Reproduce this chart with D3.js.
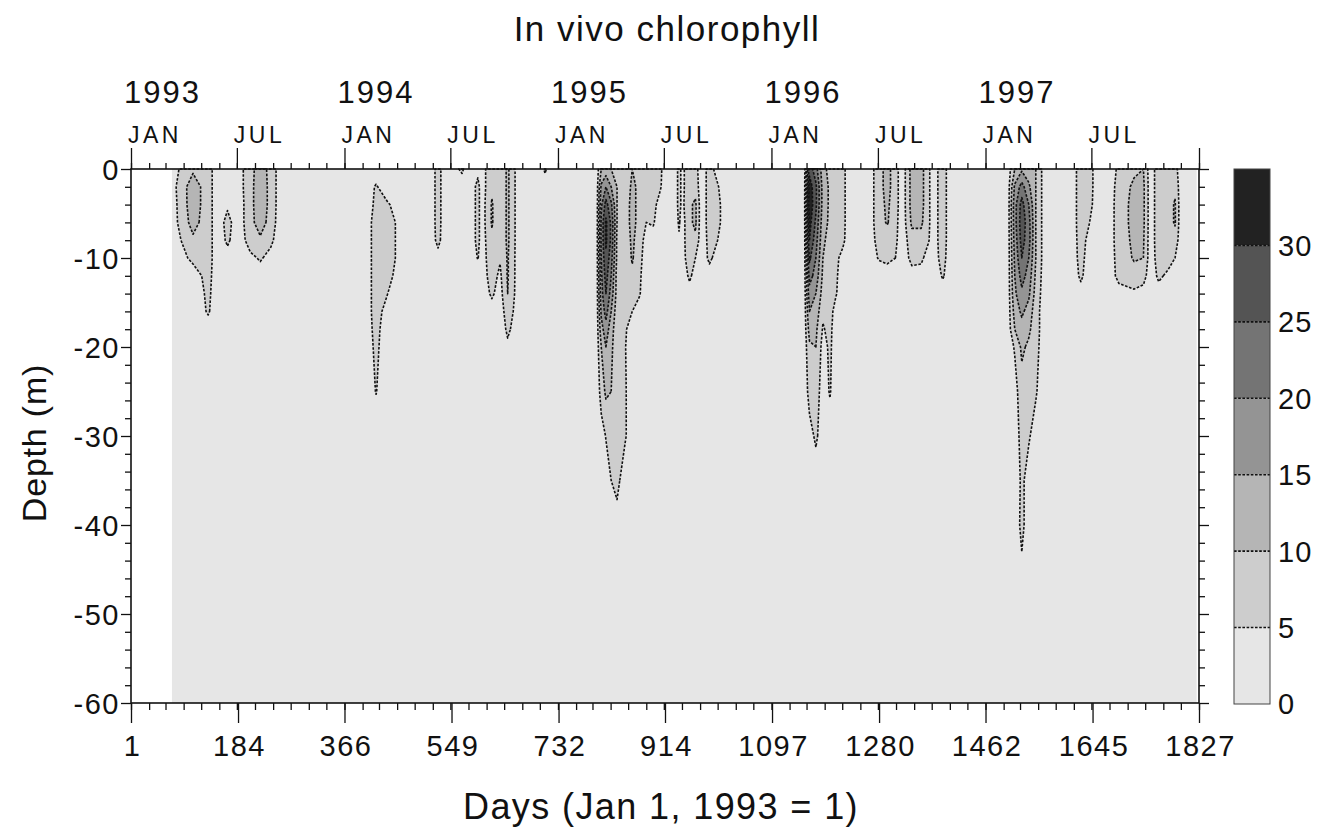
<!DOCTYPE html>
<html>
<head>
<meta charset="utf-8">
<script src="https://cdn.jsdelivr.net/npm/d3@7"></script>
<style>
  html, body { margin: 0; padding: 0; background: #fff; }
  svg text { font-family: "Liberation Sans", Arial, Helvetica, sans-serif; fill: #111; }
</style>
</head>
<body>
<svg id="chart" width="1330" height="834"></svg>
<script>
// Sampling days of the profiles (day 1 = Jan 1, 1993)
const sampleDays = [
  71, 107, 133, 150, 166, 183, 205, 222, 240, 258,
  400, 420, 440, 466, 505, 526, 545, 567, 577, 594,
  602, 618, 632, 645, 664, 700, 709, 718, 797, 805,
  813, 822, 832, 846, 858, 870, 882, 894, 906, 916,
  928, 938, 944, 956, 966, 976, 990, 1004, 1016, 1152,
  1161, 1172, 1184, 1196, 1206, 1218, 1228, 1262, 1280, 1294,
  1308, 1320, 1336, 1352, 1364, 1372, 1389, 1404, 1500, 1512,
  1524, 1536, 1548, 1564, 1610, 1625, 1640, 1654, 1672, 1690,
  1716, 1732, 1744, 1758, 1774, 1786, 1796, 1823
];

// Sampling depths (m)
const depthRows = [0, 2, 4, 6, 8, 10, 12, 14, 16, 18, 20, 25, 30, 35, 40, 45, 50, 60];

// In vivo chlorophyll, one profile per sampling day (top to bottom)
const profiles = [
  [3, 3, 2.5, 2.5, 2, 2, 2, 2, 2, 2, 2, 1.5, 1.5, 1.5, 1.5, 1.5, 1.5, 1.5],
  [9, 13, 13, 12, 9, 6, 3, 2, 2, 2, 2, 1.5, 1.5, 1.5, 1.5, 1.5, 1.5, 1.5],
  [7, 7, 7, 7, 7, 7, 6.5, 6, 5.5, 3, 2, 1.5, 1.5, 1.5, 1.5, 1.5, 1.5, 1.5],
  [2, 2, 2, 2, 2, 2, 2, 2, 2, 2, 2, 1.5, 1.5, 1.5, 1.5, 1.5, 1.5, 1.5],
  [2, 2, 4, 7, 6, 3, 2, 2, 2, 2, 2, 1.5, 1.5, 1.5, 1.5, 1.5, 1.5, 1.5],
  [2.5, 2.5, 2, 2, 2, 2, 2, 2, 2, 2, 2, 1.5, 1.5, 1.5, 1.5, 1.5, 1.5, 1.5],
  [8, 8, 8, 8, 7, 4, 2, 2, 2, 2, 2, 1.5, 1.5, 1.5, 1.5, 1.5, 1.5, 1.5],
  [13, 14, 14, 13, 9, 5.5, 3, 2, 2, 2, 2, 1.5, 1.5, 1.5, 1.5, 1.5, 1.5, 1.5],
  [8, 8, 8, 7.5, 6, 3.5, 2, 2, 2, 2, 2, 1.5, 1.5, 1.5, 1.5, 1.5, 1.5, 1.5],
  [2, 2, 2, 2, 2, 2, 2, 2, 2, 2, 2, 1.5, 1.5, 1.5, 1.5, 1.5, 1.5, 1.5],
  [2, 2, 2, 2, 2, 2, 2, 2, 2, 2, 2, 1.5, 1.5, 1.5, 1.5, 1.5, 1.5, 1.5],
  [2, 5.5, 6, 7, 7, 7, 7, 7, 7, 6.5, 6, 5.2, 2, 1.5, 1.5, 1.5, 1.5, 1.5],
  [2, 2, 5.5, 8, 8, 8, 6.5, 5, 3, 2, 2, 1.5, 1.5, 1.5, 1.5, 1.5, 1.5, 1.5],
  [2, 2, 2, 2, 2, 2, 2, 2, 2, 2, 2, 1.5, 1.5, 1.5, 1.5, 1.5, 1.5, 1.5],
  [2, 2, 2, 2, 2, 2, 2, 2, 2, 2, 2, 1.5, 1.5, 1.5, 1.5, 1.5, 1.5, 1.5],
  [6, 6, 6, 6, 5.8, 4, 2, 2, 2, 2, 2, 1.5, 1.5, 1.5, 1.5, 1.5, 1.5, 1.5],
  [2, 2, 2, 2, 2, 2, 2, 2, 2, 2, 2, 1.5, 1.5, 1.5, 1.5, 1.5, 1.5, 1.5],
  [6, 2, 2, 2, 2, 2, 2, 2, 2, 2, 2, 1.5, 1.5, 1.5, 1.5, 1.5, 1.5, 1.5],
  [2, 2, 2, 2, 2, 2, 2, 2, 2, 2, 2, 1.5, 1.5, 1.5, 1.5, 1.5, 1.5, 1.5],
  [4, 6, 6, 6, 6, 5.2, 3, 2, 2, 2, 2, 1.5, 1.5, 1.5, 1.5, 1.5, 1.5, 1.5],
  [3, 3, 3, 3, 3, 3, 3, 2.5, 2, 2, 2, 1.5, 1.5, 1.5, 1.5, 1.5, 1.5, 1.5],
  [9, 9, 10.5, 10.5, 9, 8, 7, 5.8, 3, 2, 2, 1.5, 1.5, 1.5, 1.5, 1.5, 1.5, 1.5],
  [6, 6, 6, 6, 6, 5.5, 4, 3, 2, 2, 2, 1.5, 1.5, 1.5, 1.5, 1.5, 1.5, 1.5],
  [11, 11, 11, 11, 11, 10.5, 10.5, 10, 8, 6, 4, 2, 1.5, 1.5, 1.5, 1.5, 1.5, 1.5],
  [2, 2, 2, 2, 2, 2, 2, 2, 2, 2, 2, 1.5, 1.5, 1.5, 1.5, 1.5, 1.5, 1.5],
  [2, 2, 2, 2, 2, 2, 2, 2, 2, 2, 2, 1.5, 1.5, 1.5, 1.5, 1.5, 1.5, 1.5],
  [6, 2, 2, 2, 2, 2, 2, 2, 2, 2, 2, 1.5, 1.5, 1.5, 1.5, 1.5, 1.5, 1.5],
  [2, 2, 2, 2, 2, 2, 2, 2, 2, 2, 2, 1.5, 1.5, 1.5, 1.5, 1.5, 1.5, 1.5],
  [2, 2, 2, 2, 2, 2, 2, 2, 2, 2, 2, 1.5, 1.5, 1.5, 1.5, 1.5, 1.5, 1.5],
  [10, 16, 19, 21, 21, 20, 19, 18, 16, 13, 10, 7, 3, 2, 2, 1.5, 1.5, 1.5],
  [12, 20, 27, 31, 31, 29, 27, 25, 22, 18, 15, 11, 5.2, 3, 2, 1.5, 1.5, 1.5],
  [10, 15, 21, 24, 24, 22, 20, 18, 15, 12, 11, 10, 8, 5, 2, 1.5, 1.5, 1.5],
  [9, 10, 10, 10, 9, 9, 8, 8, 7, 7, 7, 7, 7, 6.5, 3, 2, 1.5, 1.5],
  [7, 7, 7, 7, 7, 7, 6.5, 6, 6, 5.5, 5.2, 5.5, 5.5, 2, 2, 1.5, 1.5, 1.5],
  [10, 11, 12, 12, 11, 10.5, 9, 7, 5, 3, 2, 2, 2, 1.5, 1.5, 1.5, 1.5, 1.5],
  [9, 9, 8, 8, 7.5, 7, 6, 5.5, 3, 2, 2, 1.5, 1.5, 1.5, 1.5, 1.5, 1.5, 1.5],
  [8, 7, 6, 5, 3, 2, 2, 2, 2, 2, 2, 1.5, 1.5, 1.5, 1.5, 1.5, 1.5, 1.5],
  [7, 7, 6.5, 5.5, 3, 2, 2, 2, 2, 2, 2, 1.5, 1.5, 1.5, 1.5, 1.5, 1.5, 1.5],
  [6, 5.5, 3, 2, 2, 2, 2, 2, 2, 2, 2, 1.5, 1.5, 1.5, 1.5, 1.5, 1.5, 1.5],
  [2, 2, 2, 2, 2, 2, 2, 2, 2, 2, 2, 1.5, 1.5, 1.5, 1.5, 1.5, 1.5, 1.5],
  [2, 2, 2, 2, 2, 2, 2, 2, 2, 2, 2, 1.5, 1.5, 1.5, 1.5, 1.5, 1.5, 1.5],
  [6, 6, 6, 5.5, 4.5, 3, 2, 2, 2, 2, 2, 1.5, 1.5, 1.5, 1.5, 1.5, 1.5, 1.5],
  [4, 4, 4, 3, 3, 3, 2, 2, 2, 2, 2, 1.5, 1.5, 1.5, 1.5, 1.5, 1.5, 1.5],
  [8, 8, 9, 9, 9, 8, 6, 3, 2, 2, 2, 1.5, 1.5, 1.5, 1.5, 1.5, 1.5, 1.5],
  [7, 8, 11, 11, 9, 5, 3, 2, 2, 2, 2, 1.5, 1.5, 1.5, 1.5, 1.5, 1.5, 1.5],
  [2, 2, 2, 2, 2, 2, 2, 2, 2, 2, 2, 1.5, 1.5, 1.5, 1.5, 1.5, 1.5, 1.5],
  [7, 7, 7, 7, 6.5, 6, 3, 2, 2, 2, 2, 1.5, 1.5, 1.5, 1.5, 1.5, 1.5, 1.5],
  [3, 5.5, 7, 7, 5, 3, 2, 2, 2, 2, 2, 1.5, 1.5, 1.5, 1.5, 1.5, 1.5, 1.5],
  [2, 2, 2, 2, 2, 2, 2, 2, 2, 2, 2, 1.5, 1.5, 1.5, 1.5, 1.5, 1.5, 1.5],
  [2, 2, 2, 2, 2, 2, 2, 2, 2, 2, 2, 1.5, 1.5, 1.5, 1.5, 1.5, 1.5, 1.5],
  [28, 33, 34, 32, 30, 26, 22, 18, 15, 12, 9, 7, 3, 2, 2, 1.5, 1.5, 1.5],
  [22, 26, 26, 24, 22, 20, 18, 15, 13, 11, 10, 8, 6, 2, 2, 1.5, 1.5, 1.5],
  [12, 13, 13, 12, 11, 10, 9, 8, 6, 4.5, 3, 2, 2, 1.5, 1.5, 1.5, 1.5, 1.5],
  [8, 9, 9, 9, 8, 7.5, 7, 7, 7, 6.5, 6, 5.5, 2, 1.5, 1.5, 1.5, 1.5, 1.5],
  [8, 8, 8, 8, 7, 6.5, 6, 5.5, 3, 2, 2, 1.5, 1.5, 1.5, 1.5, 1.5, 1.5, 1.5],
  [7, 7, 7, 7, 6.5, 3, 2, 2, 2, 2, 2, 1.5, 1.5, 1.5, 1.5, 1.5, 1.5, 1.5],
  [2, 2, 2, 2, 2, 2, 2, 2, 2, 2, 2, 1.5, 1.5, 1.5, 1.5, 1.5, 1.5, 1.5],
  [2, 2, 2, 2, 2, 2, 2, 2, 2, 2, 2, 1.5, 1.5, 1.5, 1.5, 1.5, 1.5, 1.5],
  [8, 8, 8, 8, 7, 5.5, 2, 2, 2, 2, 2, 1.5, 1.5, 1.5, 1.5, 1.5, 1.5, 1.5],
  [12, 12, 11, 10.5, 7, 6, 3, 2, 2, 2, 2, 1.5, 1.5, 1.5, 1.5, 1.5, 1.5, 1.5],
  [7, 7, 7, 6.5, 6, 5, 2, 2, 2, 2, 2, 1.5, 1.5, 1.5, 1.5, 1.5, 1.5, 1.5],
  [2, 2, 2, 2, 2, 2, 2, 2, 2, 2, 2, 1.5, 1.5, 1.5, 1.5, 1.5, 1.5, 1.5],
  [12, 12, 12, 11, 8, 6.5, 3, 2, 2, 2, 2, 1.5, 1.5, 1.5, 1.5, 1.5, 1.5, 1.5],
  [12, 12, 12, 11, 8, 6, 3, 2, 2, 2, 2, 1.5, 1.5, 1.5, 1.5, 1.5, 1.5, 1.5],
  [6, 6, 6, 6, 5.5, 3, 2, 2, 2, 2, 2, 1.5, 1.5, 1.5, 1.5, 1.5, 1.5, 1.5],
  [3, 3, 3, 3, 3, 3, 2, 2, 2, 2, 2, 1.5, 1.5, 1.5, 1.5, 1.5, 1.5, 1.5],
  [7, 7, 7, 7, 7, 6.5, 5.5, 3, 2, 2, 2, 1.5, 1.5, 1.5, 1.5, 1.5, 1.5, 1.5],
  [2, 2, 2, 2, 2, 2, 2, 2, 2, 2, 2, 1.5, 1.5, 1.5, 1.5, 1.5, 1.5, 1.5],
  [2, 2, 2, 2, 2, 2, 2, 2, 2, 2, 2, 1.5, 1.5, 1.5, 1.5, 1.5, 1.5, 1.5],
  [10, 16, 18, 18, 17, 16, 15, 14, 12, 10, 5.5, 3, 2, 1.5, 1.5, 1.5, 1.5, 1.5],
  [14, 22, 27, 28, 27, 25, 22, 19, 16, 13, 11, 8, 7, 6, 6.5, 4, 2, 1.5],
  [12, 16, 20, 22, 22, 20, 18, 16, 13, 11, 9, 7, 5.5, 3, 2, 1.5, 1.5, 1.5],
  [10, 10, 10, 10, 10, 10, 9, 8, 7, 7, 6.5, 5.5, 3, 2, 1.5, 1.5, 1.5, 1.5],
  [2, 2, 2, 2, 2, 2, 2, 2, 2, 2, 2, 1.5, 1.5, 1.5, 1.5, 1.5, 1.5, 1.5],
  [2, 2, 2, 2, 2, 2, 2, 2, 2, 2, 2, 1.5, 1.5, 1.5, 1.5, 1.5, 1.5, 1.5],
  [8, 8, 8, 8, 7.5, 7, 6, 3, 2, 2, 2, 1.5, 1.5, 1.5, 1.5, 1.5, 1.5, 1.5],
  [7, 7, 6.5, 5, 3, 2, 2, 2, 2, 2, 2, 1.5, 1.5, 1.5, 1.5, 1.5, 1.5, 1.5],
  [2, 2, 2, 2, 2, 2, 2, 2, 2, 2, 2, 1.5, 1.5, 1.5, 1.5, 1.5, 1.5, 1.5],
  [2, 2, 2, 2, 2, 2, 2, 2, 2, 2, 2, 1.5, 1.5, 1.5, 1.5, 1.5, 1.5, 1.5],
  [6, 7, 7.5, 7.5, 7.5, 7, 6.5, 3, 2, 2, 2, 1.5, 1.5, 1.5, 1.5, 1.5, 1.5, 1.5],
  [9, 11, 11.5, 11.5, 11, 10.5, 8, 4, 2, 2, 2, 1.5, 1.5, 1.5, 1.5, 1.5, 1.5, 1.5],
  [10, 11, 11, 11, 10.5, 10, 7, 3, 2, 2, 2, 1.5, 1.5, 1.5, 1.5, 1.5, 1.5, 1.5],
  [2, 2, 2, 2, 2, 2, 2, 2, 2, 2, 2, 1.5, 1.5, 1.5, 1.5, 1.5, 1.5, 1.5],
  [8, 8, 8, 8, 8, 7.5, 6, 3, 2, 2, 2, 1.5, 1.5, 1.5, 1.5, 1.5, 1.5, 1.5],
  [8, 8, 8, 8, 8, 7, 4, 2, 2, 2, 2, 1.5, 1.5, 1.5, 1.5, 1.5, 1.5, 1.5],
  [7, 9, 10.5, 10.5, 8, 5, 2, 2, 2, 2, 2, 1.5, 1.5, 1.5, 1.5, 1.5, 1.5, 1.5],
  [2, 2, 2, 2, 2, 2, 2, 2, 2, 2, 2, 1.5, 1.5, 1.5, 1.5, 1.5, 1.5, 1.5],
  [2.5, 2.5, 2, 2, 2, 2, 2, 2, 2, 2, 2, 1.5, 1.5, 1.5, 1.5, 1.5, 1.5, 1.5]
];

// Contour levels and their grey shades
const levels = [0, 5, 10, 15, 20, 25, 30];
const levelColors = ["#e6e6e6", "#cdcdcd", "#b5b5b5", "#949494", "#747474", "#545454", "#222222"];
const legendMax = 35;

// Axis ticks and labels
const depthTicks = [0, 10, 20, 30, 40, 50, 60];
const dayTicks = [1, 184, 366, 549, 732, 914, 1097, 1280, 1462, 1645, 1827];
const years = [1993, 1994, 1995, 1996, 1997];
const monthNames = { 0: "JAN", 6: "JUL" };

const svg = d3.select("#chart");

const x = d3.scaleLinear().domain([1, 1827]).range([131, 1199]);
const y = d3.scaleLinear().domain([0, 60]).range([169, 703]);

// calendar helpers: day number counted from Jan 1, 1993 = 1
const origin = Date.UTC(1993, 0, 1);
const dayOf = d => Math.round((d - origin) / 864e5) + 1;
const months = d3.utcMonth.range(new Date(origin), new Date(Date.UTC(1998, 0, 2)));
const monthDays = months.map(dayOf);

// ---- contour field ----
const n = sampleDays.length, m = depthRows.length;
const grid = new Float64Array(n * m);
profiles.forEach((p, i) => p.forEach((v, j) => { grid[j * n + i] = v; }));

const colToDay = d3.scaleLinear().domain(d3.range(n)).range(sampleDays).clamp(true);
const rowToDepth = d3.scaleLinear().domain(d3.range(m)).range(depthRows).clamp(true);
const gridProjection = d3.geoTransform({
  point(px, py) {
    this.stream.point(x(colToDay(px - 0.5)), y(rowToDepth(py - 0.5)));
  }
});
const path = d3.geoPath(gridProjection);
const shade = d3.scaleThreshold().domain(levels.slice(1)).range(levelColors);

const bands = d3.contours().size([n, m]).thresholds(levels)(grid);

svg.append("g")
  .selectAll("path")
  .data(bands)
  .join("path")
  .attr("d", path)
  .attr("fill", d => shade(d.value))
  .attr("stroke", d => d.value > 0 ? "#111" : "none")
  .attr("stroke-width", 1.6)
  .attr("stroke-dasharray", "2.6,1.6")
  .attr("stroke-linejoin", "round");

// ---- axes ----
const font = (sel, size, ls) => sel.attr("font-size", size).attr("letter-spacing", ls);
const axisStyle = g => {
  g.select(".domain").remove();
  g.selectAll(".tick line").attr("stroke", "#111").attr("stroke-width", 1.3);
};

// frame
svg.append("rect")
  .attr("x", x(1)).attr("y", y(0))
  .attr("width", x(1827) - x(1)).attr("height", y(60) - y(0))
  .attr("fill", "none").attr("stroke", "#111").attr("stroke-width", 1.6);

// left depth axis
const minorDepths = d3.range(0, 61, 2);
svg.append("g").attr("transform", `translate(${x(1)},0)`)
  .call(d3.axisLeft(y).tickValues(minorDepths.filter(d => d % 10)).tickSize(6).tickFormat(""))
  .call(axisStyle);
svg.append("g").attr("transform", `translate(${x(1)},0)`)
  .call(d3.axisLeft(y).tickValues(depthTicks).tickSize(10).tickFormat(d => d === 0 ? "0" : "-" + d))
  .call(axisStyle)
  .call(g => g.selectAll("text").call(font, 29, 1.5).attr("dy", "0.36em").attr("x", -11));

// right depth axis (ticks only)
svg.append("g").attr("transform", `translate(${x(1827)},0)`)
  .call(d3.axisRight(y).tickValues(minorDepths.filter(d => d % 10)).tickSize(6).tickFormat(""))
  .call(axisStyle);
svg.append("g").attr("transform", `translate(${x(1827)},0)`)
  .call(d3.axisRight(y).tickValues(depthTicks).tickSize(10).tickFormat(""))
  .call(axisStyle);

// bottom day axis
svg.append("g").attr("transform", `translate(0,${y(60)})`)
  .call(d3.axisBottom(x).tickValues(monthDays).tickSize(7).tickFormat(""))
  .call(axisStyle);
svg.append("g").attr("transform", `translate(0,${y(60)})`)
  .call(d3.axisBottom(x).tickValues(dayTicks).tickSize(20).tickFormat(d3.format("d")))
  .call(axisStyle)
  .call(g => g.selectAll("text").call(font, 29, 1.5).attr("y", 53).attr("dy", 0).attr("dx", 1));

// top calendar axis
const majorMonths = months.filter(d => d.getUTCMonth() % 6 === 0);
svg.append("g").attr("transform", `translate(0,${y(0)})`)
  .call(d3.axisTop(x).tickValues(monthDays).tickSize(6).tickFormat(""))
  .call(axisStyle);
svg.append("g").attr("transform", `translate(0,${y(0)})`)
  .call(d3.axisTop(x).tickValues(majorMonths.map(dayOf)).tickSize(21).tickFormat(""))
  .call(axisStyle);

svg.append("g")
  .selectAll("text")
  .data(majorMonths.filter(d => d.getUTCFullYear() < 1998))
  .join("text")
  .attr("x", d => x(dayOf(d)) - 3)
  .attr("y", 143)
  .call(font, 23, 3.5)
  .text(d => monthNames[d.getUTCMonth()]);

svg.append("g")
  .selectAll("text")
  .data(years)
  .join("text")
  .attr("x", d => x(dayOf(new Date(Date.UTC(d, 0, 1)))) - 7)
  .attr("y", 103)
  .call(font, 31, 2)
  .text(d => d);

// titles
svg.append("text")
  .attr("x", 667).attr("y", 41)
  .attr("text-anchor", "middle")
  .call(font, 35, 1.5)
  .text("In vivo chlorophyll");

svg.append("text")
  .attr("x", 661).attr("y", 819)
  .attr("text-anchor", "middle")
  .call(font, 36, 1.4)
  .text("Days (Jan 1, 1993 = 1)");

svg.append("text")
  .attr("transform", "translate(46,443) rotate(-90)")
  .attr("text-anchor", "middle")
  .call(font, 34, 0.8)
  .text("Depth (m)");

// ---- legend ----
const ly = d3.scaleLinear().domain([0, legendMax]).range([704, 169]);
const legendBands = levels.map((v, i) => ({ lo: v, hi: i + 1 < levels.length ? levels[i + 1] : legendMax }));
const legend = svg.append("g");
legend.selectAll("rect.band")
  .data(legendBands)
  .join("rect")
  .attr("class", "band")
  .attr("x", 1234).attr("width", 36)
  .attr("y", d => ly(d.hi)).attr("height", d => ly(d.lo) - ly(d.hi))
  .attr("fill", d => shade(d.lo));
legend.selectAll("line.sep")
  .data(levels.slice(1))
  .join("line")
  .attr("class", "sep")
  .attr("x1", 1234).attr("x2", 1270)
  .attr("y1", d => ly(d)).attr("y2", d => ly(d))
  .attr("stroke", "#111").attr("stroke-width", 1.6).attr("stroke-dasharray", "2.6,1.6");
legend.append("rect")
  .attr("x", 1234).attr("y", ly(legendMax))
  .attr("width", 36).attr("height", ly(0) - ly(legendMax))
  .attr("fill", "none").attr("stroke", "#444").attr("stroke-width", 1);
legend.selectAll("text")
  .data(levels)
  .join("text")
  .attr("x", 1278)
  .attr("y", d => ly(d))
  .attr("dy", "0.36em")
  .call(font, 29, 1)
  .text(d => d);
</script>
</body>
</html>
